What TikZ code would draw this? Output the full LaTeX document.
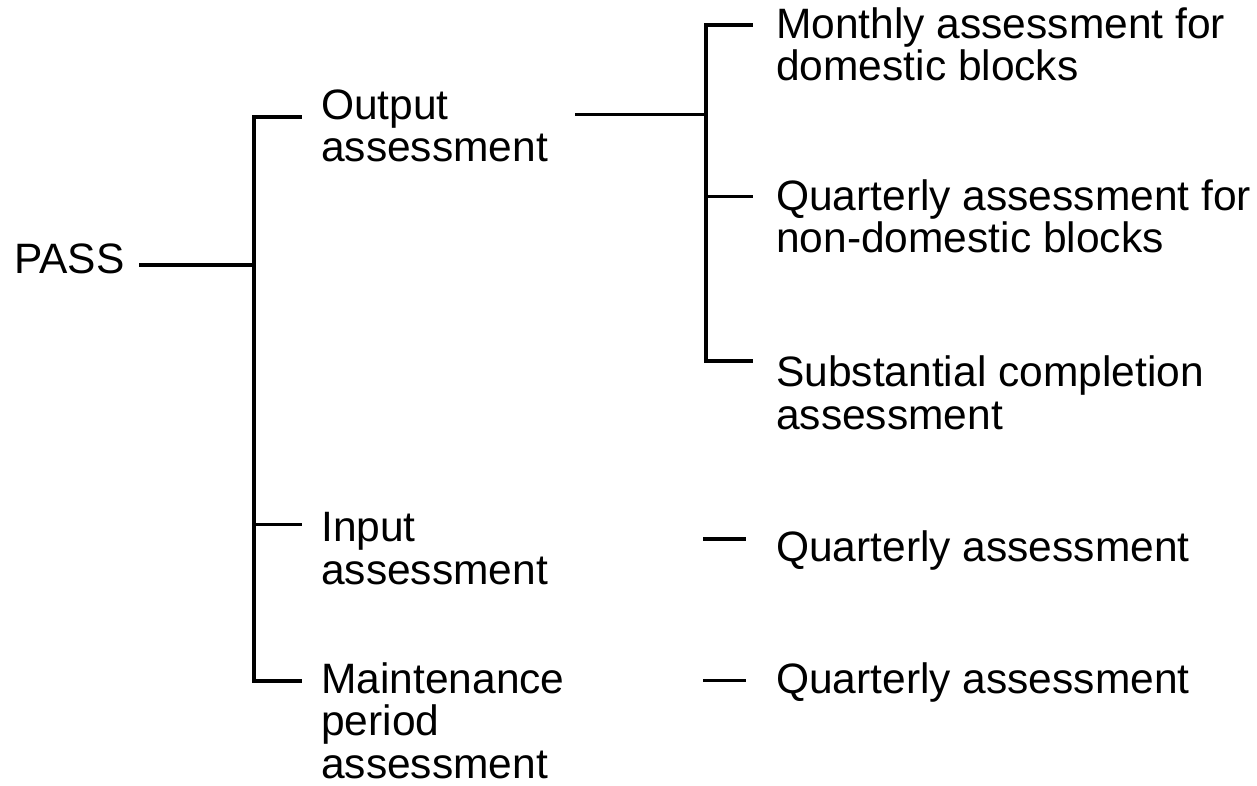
\documentclass[tikz,border=0pt]{standalone}
\usepackage{fontspec}
\setmainfont{Liberation Sans}
\begin{document}
\begin{tikzpicture}[x=1pt,y=-1pt,
  lbl/.style={anchor=base west,align=left,inner sep=0pt,font=\fontsize{42.5}{42.5}\selectfont},
  thick line/.style={line width=3.6pt,line cap=rect},
  thin line/.style={line width=3pt,line cap=rect}]
\useasboundingbox[fill=white] (0,0) rectangle (1257,786);
% text nodes (base anchor = baseline of last line)
\node[lbl] (pass) at (14,273) {PASS};
\node[lbl] (out) at (321,162) {Output\\assessment};
\node[lbl] (inp) at (321,584) {Input\\assessment};
\node[lbl] (mnt) at (321,778) {Maintenance\\period\\assessment};
\node[lbl] (mon) at (776,81) {Monthly assessment for\\domestic blocks};
\node[lbl] (qua) at (776,253) {Quarterly assessment for\\non-domestic blocks};
\node[lbl] (sub) at (776,429) {Substantial completion\\assessment};
\node[lbl] (qin) at (776,561) {Quarterly assessment};
\node[lbl] (qmt) at (776,693) {Quarterly assessment};
% junction coordinates
\coordinate (passE) at (141,265);
\coordinate (j0) at (254,265);
\coordinate (jt) at (254,117);
\coordinate (jb) at (254,681);
\coordinate (ji) at (254,524);
\coordinate (outW) at (300,117);
\coordinate (inpW) at (300,524);
\coordinate (mntW) at (300,681);
\coordinate (outE) at (576,115);
\coordinate (k0) at (706,115);
\coordinate (kt) at (706,25);
\coordinate (kq) at (706,197);
\coordinate (kb) at (706,361);
\coordinate (monW) at (751,25);
\coordinate (quaW) at (751,197);
\coordinate (subW) at (751,361);
\coordinate (qinA) at (703,539);
\coordinate (qinB) at (746,539);
\coordinate (qmtA) at (703,680);
\coordinate (qmtB) at (746,680);
% connectors
\draw[thick line] (passE) -- (j0);
\draw[thick line] (outW) -- (jt) -- (jb) -- (mntW);
\draw[thin line] (ji) -- (inpW);
\draw[thin line] (outE) -- (k0);
\draw[thick line] (monW) -- (kt) -- (kb) -- (subW);
\draw[thin line] (kq) -- (quaW);
\draw[line width=3.6pt] (qinA) -- (qinB);
\draw[line width=3pt] (qmtA) -- (qmtB);
\end{tikzpicture}
\end{document}
